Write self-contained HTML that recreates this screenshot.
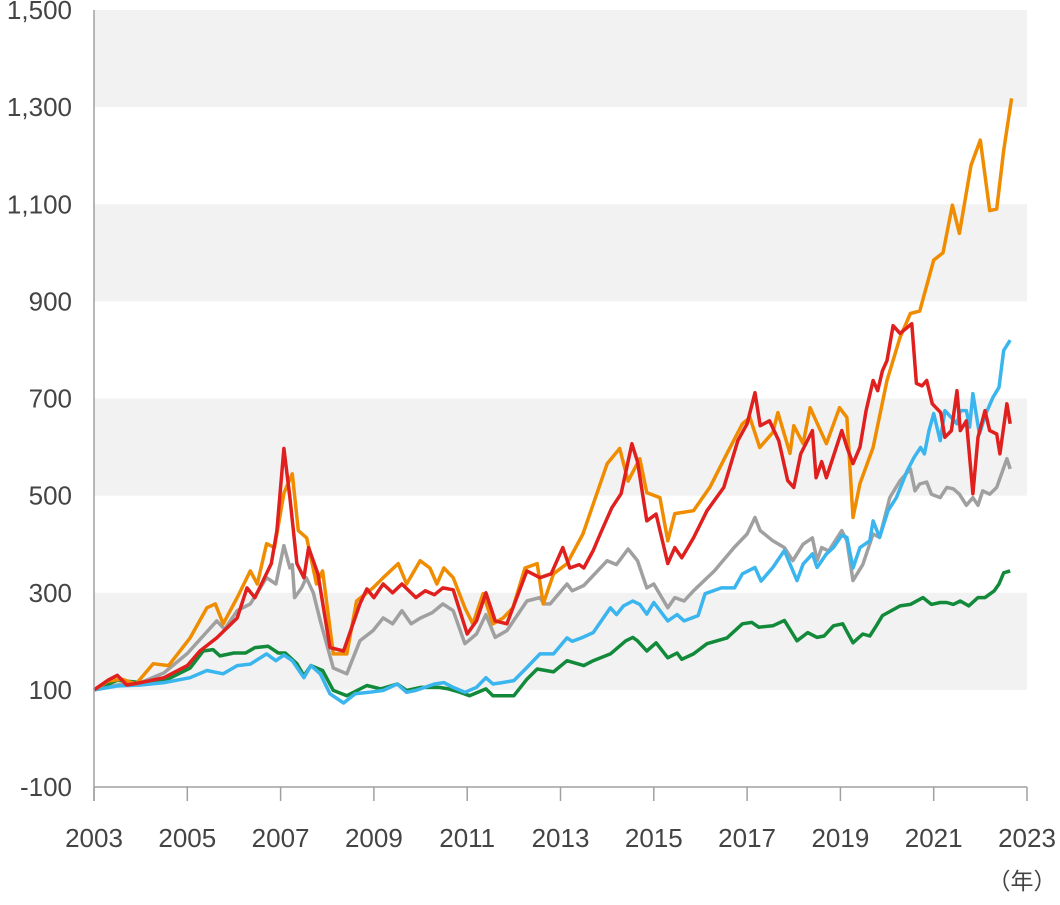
<!DOCTYPE html>
<html><head><meta charset="utf-8">
<style>
html,body{margin:0;padding:0;background:#fff;}
svg text{font-family:"Liberation Sans","Noto Sans CJK JP",sans-serif;fill:#444;}
</style></head>
<body>
<svg id="chart" width="1060" height="900" xmlns="http://www.w3.org/2000/svg">
<g id="bands"></g>
<g id="series"></g>
<g id="axes"></g>
<text x="1022" y="889" font-size="23" text-anchor="middle">（年）</text>
</svg>
<script>
const yTicks = [-100, 100, 300, 500, 700, 900, 1100, 1300, 1500];
const yTickLabels = ["-100", "100", "300", "500", "700", "900", "1,100", "1,300", "1,500"];
const xTicks = [2003, 2005, 2007, 2009, 2011, 2013, 2015, 2017, 2019, 2021, 2023];

const orangeYears = [2003.0,2003.3,2003.6,2003.9,2004.27,2004.6,2005.06,2005.42,2005.6,2005.77,2006.07,2006.35,2006.5,2006.7,2006.87,2007.07,2007.25,2007.38,2007.56,2007.77,2007.9,2008.13,2008.42,2008.63,2008.98,2009.2,2009.52,2009.7,2009.99,2010.2,2010.35,2010.5,2010.7,2010.95,2011.12,2011.34,2011.55,2011.77,2011.98,2012.24,2012.5,2012.63,2012.85,2013.14,2013.48,2014.0,2014.27,2014.45,2014.7,2014.85,2015.13,2015.3,2015.45,2015.85,2016.2,2016.57,2016.9,2017.06,2017.27,2017.55,2017.66,2017.92,2018.0,2018.2,2018.35,2018.7,2018.98,2019.14,2019.27,2019.42,2019.7,2020.0,2020.28,2020.5,2020.7,2021.0,2021.2,2021.4,2021.55,2021.8,2022.0,2022.2,2022.35,2022.5,2022.67];
const orangeValues = [100,118,122,112,154,150,207,269,277,236,290,345,318,401,393,505,545,428,413,318,345,174,174,283,310,331,360,318,366,351,318,351,331,269,236,298,236,248,269,351,360,277,339,360,421,566,597,530,576,506,496,407,463,469,517,587,648,661,599,630,671,587,644,607,681,607,681,661,455,525,599,737,826,875,880,985,1000,1098,1040,1180,1232,1087,1090,1211,1318];

const redYears = [2003.0,2003.3,2003.5,2003.7,2004.0,2004.5,2005.0,2005.27,2005.63,2006.07,2006.28,2006.45,2006.8,2006.92,2007.07,2007.2,2007.35,2007.5,2007.6,2007.8,2008.06,2008.35,2008.7,2008.85,2009.0,2009.2,2009.4,2009.6,2009.9,2010.1,2010.3,2010.48,2010.7,2011.0,2011.2,2011.4,2011.6,2011.85,2012.28,2012.56,2012.8,2013.05,2013.2,2013.4,2013.5,2013.7,2013.85,2014.1,2014.3,2014.53,2014.65,2014.85,2015.05,2015.3,2015.45,2015.6,2015.85,2016.14,2016.5,2016.8,2017.0,2017.17,2017.28,2017.48,2017.68,2017.87,2018.0,2018.15,2018.4,2018.48,2018.6,2018.7,2019.03,2019.14,2019.27,2019.42,2019.55,2019.7,2019.8,2019.9,2020.0,2020.13,2020.28,2020.53,2020.63,2020.75,2020.85,2020.97,2021.15,2021.24,2021.38,2021.5,2021.57,2021.7,2021.84,2021.95,2022.1,2022.2,2022.35,2022.42,2022.57,2022.64];
const redValues = [100,120,130,110,115,125,150,180,207,248,310,290,360,428,597,496,360,331,393,339,187,180,277,308,290,318,300,318,290,304,296,310,306,215,242,300,242,236,345,331,339,393,351,358,351,387,421,475,504,607,570,448,462,360,393,372,413,469,517,613,648,712,644,654,613,531,517,586,634,537,570,537,634,600,566,600,675,737,716,757,778,850,834,854,731,726,737,689,671,620,634,716,634,654,504,620,675,634,627,586,689,648];

const grayYears = [2003.0,2003.5,2004.0,2004.5,2005.0,2005.63,2005.8,2006.07,2006.35,2006.7,2006.9,2007.07,2007.2,2007.25,2007.3,2007.45,2007.55,2007.7,2007.85,2008.13,2008.42,2008.7,2008.98,2009.2,2009.4,2009.6,2009.8,2010.0,2010.25,2010.48,2010.7,2010.95,2011.2,2011.4,2011.6,2011.85,2012.28,2012.56,2012.65,2012.78,2013.14,2013.25,2013.5,2014.0,2014.2,2014.45,2014.65,2014.85,2015.0,2015.3,2015.45,2015.65,2015.85,2016.3,2016.72,2017.0,2017.17,2017.28,2017.55,2017.8,2017.98,2018.2,2018.4,2018.5,2018.6,2018.75,2019.03,2019.14,2019.27,2019.48,2019.7,2019.84,2020.06,2020.28,2020.5,2020.6,2020.7,2020.85,2020.95,2021.14,2021.28,2021.42,2021.55,2021.7,2021.84,2021.95,2022.05,2022.2,2022.35,2022.57,2022.64];
const grayValues = [100,110,115,135,175,242,225,263,277,331,318,397,351,358,290,310,331,300,242,145,133,201,222,248,236,263,236,248,259,277,263,195,215,255,208,222,283,290,277,277,318,304,315,366,358,390,366,310,318,269,290,283,304,345,393,421,455,428,407,393,366,400,413,366,393,386,428,407,325,358,421,414,496,531,555,510,524,528,503,496,517,514,503,480,496,480,510,503,517,576,555];

const blueYears = [2003.0,2003.5,2004.0,2004.5,2005.06,2005.42,2005.77,2006.07,2006.35,2006.7,2006.9,2007.07,2007.25,2007.5,2007.65,2007.85,2008.06,2008.35,2008.6,2008.9,2009.2,2009.5,2009.7,2009.9,2010.3,2010.5,2010.7,2010.95,2011.2,2011.4,2011.55,2011.75,2012.0,2012.28,2012.56,2012.85,2013.14,2013.25,2013.45,2013.7,2014.07,2014.2,2014.35,2014.55,2014.7,2014.85,2015.0,2015.3,2015.5,2015.65,2015.95,2016.1,2016.45,2016.73,2016.9,2017.17,2017.3,2017.55,2017.8,2017.92,2018.07,2018.2,2018.4,2018.5,2018.7,2018.85,2019.03,2019.14,2019.27,2019.42,2019.63,2019.7,2019.84,2020.02,2020.2,2020.43,2020.58,2020.72,2020.8,2020.9,2021.0,2021.14,2021.24,2021.5,2021.57,2021.7,2021.77,2021.84,2021.98,2022.12,2022.27,2022.4,2022.5,2022.64];
const blueValues = [100,108,110,115,125,140,133,150,153,174,160,172,160,125,150,133,92,73,92,95,99,112,95,99,112,115,105,95,105,125,112,115,119,146,174,174,207,200,207,218,269,255,273,283,276,256,280,242,255,242,253,298,310,310,339,352,324,352,387,359,325,359,380,352,380,393,418,414,351,393,407,448,414,469,496,551,579,599,586,634,669,613,675,648,675,675,641,710,627,669,702,723,799,820];

const greenYears = [2003.0,2003.5,2004.0,2004.5,2005.06,2005.34,2005.55,2005.7,2006.0,2006.25,2006.45,2006.73,2006.95,2007.1,2007.35,2007.5,2007.65,2007.9,2008.13,2008.42,2008.85,2009.15,2009.5,2009.7,2010.0,2010.4,2010.6,2010.85,2011.05,2011.4,2011.55,2012.0,2012.28,2012.5,2012.85,2013.14,2013.5,2013.7,2014.07,2014.4,2014.55,2014.65,2014.85,2015.05,2015.3,2015.5,2015.6,2015.85,2016.14,2016.57,2016.9,2017.1,2017.25,2017.55,2017.8,2018.07,2018.3,2018.5,2018.65,2018.85,2019.05,2019.27,2019.48,2019.63,2019.77,2019.9,2020.28,2020.5,2020.77,2020.95,2021.14,2021.28,2021.42,2021.57,2021.75,2021.95,2022.1,2022.3,2022.4,2022.5,2022.64];
const greenValues = [100,120,115,118,145,180,183,170,176,176,187,190,176,176,154,129,150,140,99,88,109,102,112,99,105,105,102,95,88,102,88,88,122,143,137,160,150,160,174,201,208,201,180,197,166,176,163,174,195,207,236,239,229,232,243,201,218,208,211,232,236,197,215,211,232,253,273,276,290,276,280,280,276,283,273,290,290,304,318,341,345];

const X0 = 94, X1 = 1027, Y0 = 787, Y1 = 10;
function xs(t){ return X0 + (t - 2003) / 20 * (X1 - X0); }
function ys(v){ return Y0 - (v + 100) / 1600 * (Y0 - Y1); }
const NS = "http://www.w3.org/2000/svg";
function mk(tag, parent){ const e = document.createElementNS(NS, tag); parent.appendChild(e); return e; }

const bands = document.getElementById('bands');
for (let i = 0; i < yTicks.length - 1; i++) {
  if (i % 2 === 1) {
    const r = mk('rect', bands);
    
    
    r.setAttribute('x', X0); r.setAttribute('width', X1 - X0);
    r.setAttribute('y', ys(yTicks[i+1])); r.setAttribute('height', ys(yTicks[i]) - ys(yTicks[i+1]));
    r.setAttribute('fill', '#f2f2f2');
  }
}

const series = document.getElementById('series');
const seriesList = [
  ['gray-series', grayYears, grayValues, '#a0a0a0'],
  ['green-series', greenYears, greenValues, '#128a3a'],
  ['blue-series', blueYears, blueValues, '#3bb5ee'],
  ['orange-series', orangeYears, orangeValues, '#f08c00'],
  ['red-series', redYears, redValues, '#e0201e']
];
for (const [name, yrs, vals, col] of seriesList) {
  const p = mk('polyline', series);
  
  
  p.setAttribute('points', yrs.map((t, i) => xs(t).toFixed(1) + ',' + ys(vals[i]).toFixed(1)).join(' '));
  p.setAttribute('fill', 'none'); p.setAttribute('stroke', col);
  p.setAttribute('stroke-width', '3.5'); p.setAttribute('stroke-linejoin', 'round');
}

const axes = document.getElementById('axes');
const ya = mk('line', axes);


ya.setAttribute('x1', X0); ya.setAttribute('x2', X0); ya.setAttribute('y1', Y1); ya.setAttribute('y2', Y0 + 14);
ya.setAttribute('stroke', '#a0a0a0'); ya.setAttribute('stroke-width', '1.5');
const xa = mk('line', axes);


xa.setAttribute('x1', X0); xa.setAttribute('x2', X1); xa.setAttribute('y1', Y0); xa.setAttribute('y2', Y0);
xa.setAttribute('stroke', '#a0a0a0'); xa.setAttribute('stroke-width', '1.5');
yTicks.forEach((v, i) => {
  const t = mk('text', axes);
  
  
  t.setAttribute('x', 72); t.setAttribute('y', ys(v) + 9);
  t.setAttribute('text-anchor', 'end'); t.setAttribute('font-size', '26');
  t.textContent = yTickLabels[i];
});
xTicks.forEach(yr => {
  const l = mk('line', axes);
  
  
  l.setAttribute('x1', xs(yr)); l.setAttribute('x2', xs(yr)); l.setAttribute('y1', Y0); l.setAttribute('y2', Y0 + 14);
  l.setAttribute('stroke', '#a0a0a0'); l.setAttribute('stroke-width', '1.5');
  const t = mk('text', axes);
  
  
  t.setAttribute('x', xs(yr)); t.setAttribute('y', 847);
  t.setAttribute('text-anchor', 'middle'); t.setAttribute('font-size', '26');
  t.textContent = String(yr);
});
</script>
</body></html>
